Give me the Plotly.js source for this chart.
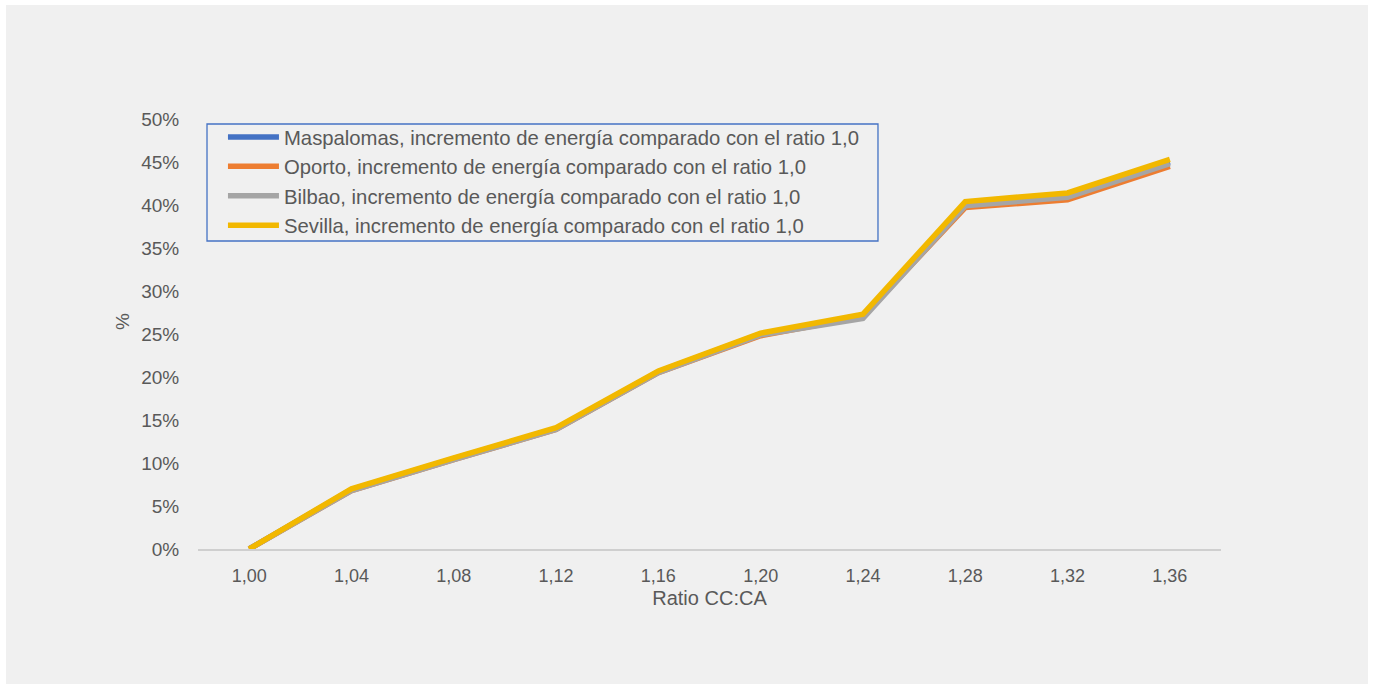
<!DOCTYPE html>
<html>
<head>
<meta charset="utf-8">
<script src="https://cdn.plot.ly/plotly-3.0.1.min.js"></script>
<style>
  html, body { margin: 0; padding: 0; background: #ffffff; }
  #chart { position: absolute; left: 6px; top: 5px; width: 1362px; height: 679px; }
</style>
</head>
<body>
<div id="chart"></div>
<script>
// Energy increase (%) relative to ratio 1,0 for each DC:AC ratio
const ratios = ["1,00", "1,04", "1,08", "1,12", "1,16", "1,20", "1,24", "1,28", "1,32", "1,36"];
const maspalomas = [0, 6.9, 10.5, 14.0, 20.6, 25.0, 27.1, 40.2, 41.2, 45.0];
const oporto     = [0, 6.8, 10.4, 13.9, 20.5, 24.8, 27.0, 39.7, 40.6, 44.5];
const bilbao     = [0, 6.8, 10.4, 13.9, 20.5, 24.9, 26.8, 39.9, 40.9, 44.8];
const sevilla    = [0, 7.0, 10.6, 14.1, 20.7, 25.1, 27.3, 40.4, 41.4, 45.3];

const suffix = ", incremento de energía comparado con el ratio 1,0";
const seriesNames = ["Maspalomas", "Oporto", "Bilbao", "Sevilla"];
const seriesValues = [maspalomas, oporto, bilbao, sevilla];
const seriesColors = ["#4472c4", "#ed7d31", "#a5a5a5", "#f2b800"];

const textColor = "#595959";
const fontFamily = "Liberation Sans, Arial, sans-serif";

const traces = seriesNames.map((name, i) => ({
  type: "scatter",
  mode: "lines",
  x: ratios,
  y: seriesValues[i],
  name: name + suffix,
  line: { color: seriesColors[i], width: 5.5 }
}));

const layout = {
  width: 1362,
  height: 679,
  margin: { l: 192, r: 147, t: 114, b: 135 },
  paper_bgcolor: "#f0f0f0",
  plot_bgcolor: "#f0f0f0",
  font: { family: fontFamily, size: 19, color: textColor },
  showlegend: true,
  legend: {
    x: 0.0244, y: 1.004, xanchor: "left", yanchor: "top",
    bgcolor: "rgba(0,0,0,0)",
    borderwidth: 0,
    font: { family: fontFamily, size: 20.3, color: textColor },
    itemwidth: 51
  },
  // legend frame
  shapes: [{
    type: "rect", xref: "paper", yref: "paper",
    x0: 0.0088, x1: 0.6647, y0: 0.7163, y1: 0.9884,
    line: { color: "#4472c4", width: 1.3 },
    fillcolor: "rgba(0,0,0,0)",
    layer: "above"
  }],
  annotations: [{
    text: "%", xref: "paper", yref: "paper",
    x: -0.0733, y: 0.528, xanchor: "center", yanchor: "middle",
    textangle: -90, showarrow: false,
    font: { size: 19, color: textColor }
  }],
  xaxis: {
    type: "category",
    range: [-0.5, 9.5],
    showgrid: false,
    zeroline: false,
    showline: true,
    linecolor: "#cfcfcf",
    linewidth: 2,
    layer: "below traces",
    ticks: "outside",
    ticklen: 9,
    tickcolor: "rgba(0,0,0,0)",
    tickfont: { size: 18, color: textColor },
    title: { text: "Ratio CC:CA", font: { size: 20, color: textColor }, standoff: 6 }
  },
  yaxis: {
    range: [0, 50],
    dtick: 5,
    ticksuffix: "%",
    showgrid: false,
    zeroline: false,
    showline: false,
    ticks: "outside",
    ticklen: 14,
    tickcolor: "rgba(0,0,0,0)",
    tickfont: { size: 19, color: textColor }
  }
};

Plotly.newPlot("chart", traces, layout, { displayModeBar: false, staticPlot: true });
</script>
</body>
</html>
